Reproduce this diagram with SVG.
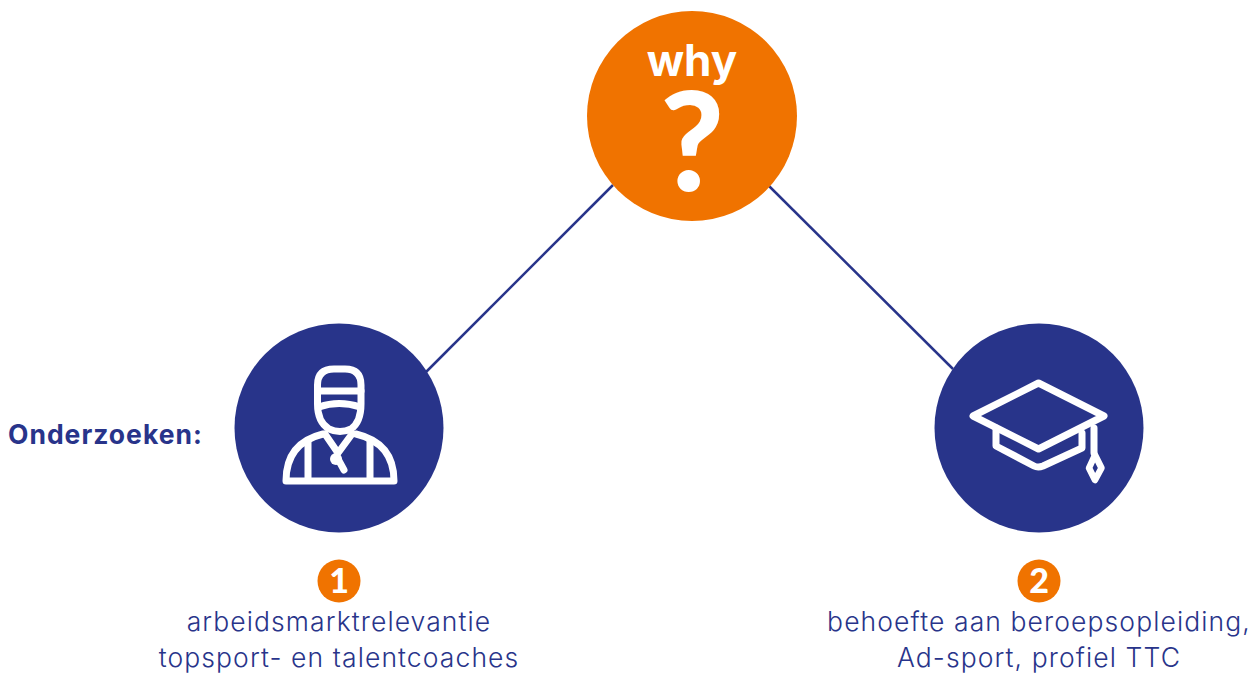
<svg xmlns="http://www.w3.org/2000/svg" width="1253" height="673" viewBox="0 0 1253 673">
<style>
.lab{font-family:"Inter","Noto Sans",sans-serif;font-weight:300;font-size:26.500px;fill:#28348a;text-anchor:middle;letter-spacing:1.1px}
.num{font-family:"Lato","Noto Sans",sans-serif;font-weight:900;font-size:34px;fill:#fff;text-anchor:middle}
.ic{fill:none;stroke:#fff;stroke-width:7;stroke-linejoin:round;stroke-linecap:round}
.conn{stroke:#28348a;stroke-width:2.5;fill:none}
</style>
<rect width="1253" height="673" fill="#fff"/>
<g id="connectors">
<line class="conn" x1="613" y1="185" x2="426" y2="372"/>
<line class="conn" x1="769" y1="186" x2="953" y2="369"/>
</g>
<g id="node-why">
<circle cx="692" cy="116" r="105" fill="#f07300"/>
<text x="692" y="76" font-family="Inter,'Noto Sans',sans-serif" font-weight="700" font-size="44" fill="#fff" text-anchor="middle">why</text>
<text x="692" y="191" font-family="Lato,'Noto Sans',sans-serif" font-weight="900" font-size="138" fill="#fff" text-anchor="middle">?</text>
</g>
<g id="node-1">
<circle cx="339" cy="428" r="104.500" fill="#28348a"/>
<g class="ic">
<path d="M317.500 404V385Q317.500 369 334 369H345Q361 369 361 385V404Q361 422 351 429Q340 434 329 429Q317.500 422 317.500 404Z"/>
<path d="M318 391H361"/>
<path d="M319 407Q339 400 360 407"/>
<path d="M323 434Q286 443 286 481H394Q394 443 356 434"/>
<path d="M325 434L338 453L352 434"/>
<path d="M308 441V479M370 441V479"/>
<path d="M338 459L344 470"/>
</g>
<circle cx="336" cy="459" r="6" fill="#fff"/>
</g>
<g id="node-2">
<circle cx="1039" cy="428" r="104.500" fill="#28348a"/>
<g class="ic">
<path d="M1038.500 383L1104 416L1038.500 449L973 416Z"/>
<path d="M996 428V446L1034 466Q1038 468 1043 466L1082 448V433"/>
<path d="M1094 428V453"/>
<path d="M1095 455L1101.500 468L1095 480L1089 468Z" stroke-width="6.500"/>
</g>
</g>
<text id="label-onderzoeken" x="8" y="444" font-family="Inter,'Noto Sans',sans-serif" font-weight="700" font-size="26.500" letter-spacing="1" fill="#28348a">Onderzoeken:</text>
<g id="badge-1">
<circle cx="339" cy="581" r="21.500" fill="#f07300"/>
<text class="num" x="339" y="593">1</text>
</g>
<g id="badge-2">
<circle cx="1039" cy="581" r="21.500" fill="#f07300"/>
<text class="num" x="1039" y="593">2</text>
</g>
<g id="text-1">
<text class="lab" x="339" y="631">arbeidsmarktrelevantie</text>
<text class="lab" x="339" y="667">topsport- en talentcoaches</text>
</g>
<g id="text-2">
<text class="lab" x="1039" y="631">behoefte aan beroepsopleiding,</text>
<text class="lab" x="1039" y="667">Ad-sport, profiel TTC</text>
</g>
</svg>
